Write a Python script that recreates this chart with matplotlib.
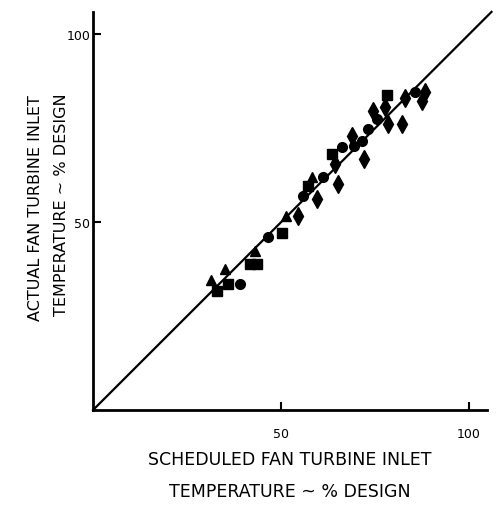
import matplotlib.pyplot as plt

# scheduled vs actual fan turbine inlet temperature, % of design
sq_x = [33.0, 35.9, 41.8, 43.6, 50.3, 57.2, 63.6, 78.2]
sq_y = [31.6, 33.5, 38.8, 38.8, 47.1, 59.6, 68.1, 84.0]

tri_x = [31.4, 35.1, 43.1, 51.3, 58.2]
tri_y = [34.6, 37.5, 42.3, 51.6, 62.0]

circ_x = [39.1, 46.5, 55.9, 61.2, 66.2, 69.4, 71.5, 73.1, 75.5, 85.6]
circ_y = [33.5, 46.0, 56.9, 62.0, 69.9, 70.2, 71.5, 74.7, 77.4, 84.8]

dia_x = [54.5, 59.6, 64.4, 65.2, 68.9, 72.1, 74.5, 77.7, 78.5, 82.2, 83.0, 88.3, 87.5]
dia_y = [51.6, 56.1, 65.4, 60.1, 72.9, 66.8, 79.5, 80.6, 76.1, 76.1, 83.2, 84.8, 82.2]

ticks = [50, 100]

fig = plt.figure(figsize=(5.0, 5.1), dpi=100)
ax = fig.add_axes([0.186, 0.194, 0.788, 0.780])

# line of perfect agreement
ax.plot([0, 106], [0, 106], color="black", lw=1.6, clip_on=False, zorder=2)

ax.plot(sq_x, sq_y, "s", color="black", ms=7, zorder=3)
ax.plot(tri_x, tri_y, "^", color="black", ms=7.5, zorder=3)
ax.plot(circ_x, circ_y, "o", color="black", ms=7, zorder=3)
ax.plot(dia_x, dia_y, "d", color="black", ms=9, zorder=3)

ax.set_xlim(0, 104.8)
ax.set_ylim(0, 105.9)
ax.set_xticks(ticks)
ax.set_yticks(ticks)
ax.tick_params(direction="in", length=6, width=1.5, labelsize=9)
ax.tick_params(axis="x", pad=12)
ax.tick_params(axis="y", pad=2)

for side in ["top", "right"]:
    ax.spines[side].set_visible(False)
for side in ["left", "bottom"]:
    ax.spines[side].set_linewidth(2)

fig.text(0.58, 1 - 460 / 510, "SCHEDULED FAN TURBINE INLET",
         ha="center", va="center", fontsize=12.5)
fig.text(0.58, 1 - 492 / 510, "TEMPERATURE ~ % DESIGN",
         ha="center", va="center", fontsize=12.5)
fig.text(36 / 500, 1 - 208 / 510, "ACTUAL FAN TURBINE INLET",
         ha="center", va="center", rotation=90, fontsize=11.5)
fig.text(61 / 500, 1 - 205 / 510, "TEMPERATURE ~ % DESIGN",
         ha="center", va="center", rotation=90, fontsize=11.5)

plt.savefig("out.png", dpi=100)
plt.close()
